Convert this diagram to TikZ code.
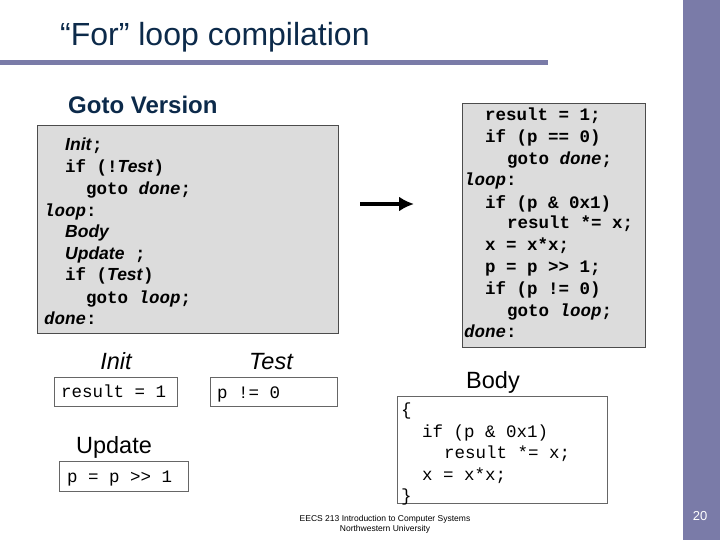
\documentclass[tikz,border=0pt]{standalone}
\usepackage{fontspec}
\usetikzlibrary{arrows.meta}
\setmainfont{Liberation Sans}
\setsansfont{Liberation Sans}
\setmonofont{Liberation Mono}
\definecolor{barpurple}{HTML}{7A7BA8}
\definecolor{titlenavy}{HTML}{0C2A4A}
\definecolor{boxgray}{HTML}{DCDCDC}
\newcommand{\sit}[1]{\textsf{\bfseries\itshape #1}}
\tikzset{
  codeline/.style={anchor=base west, inner sep=0, font=\fontsize{17.5}{20}\ttfamily\bfseries},
  codebox/.style={draw=black!70, fill=boxgray},
  valbox/.style={draw=black!60, fill=white},
  lbl/.style={anchor=base, inner sep=0, font=\fontsize{23.5}{26}\selectfont\itshape}
}
\begin{document}
\begin{tikzpicture}[x=1pt,y=-1pt]
	\useasboundingbox (0,0) rectangle (720,540);
	\fill[barpurple] (683,0) rectangle (720,540);
	\node[white, font=\fontsize{13}{15}\selectfont] (pagenum) at (700,516) {20};
	\node[anchor=base west, inner sep=0, titlenavy, font=\fontsize{32}{36}\selectfont] (title) at (60,46) {``For'' loop compilation};
	\draw[barpurple, line width=5pt] (0,63) -- (548,63);
	\node[anchor=base west, inner sep=0, titlenavy, font=\fontsize{24}{28}\selectfont\bfseries] (gotover) at (68,114) {Goto Version};
	% goto code
	\node[codebox, minimum width=301, minimum height=208, anchor=north west] (leftbox) at (37,125) {};
	\foreach \y/\x/\t in {151/65/{\sit{Init};}, 173/65/{if (!\sit{Test})}, 195/86/{goto \textit{done};},
		216/44/{\textit{loop}:}, 237/65/{\sit{Body}}, 259/65/{\sit{Update} ;}, 280/65/{if (\sit{Test})},
		303/86/{goto \textit{loop};}, 324/44/{\textit{done}:}}
		\node[codeline] at (\x,\y) {\t};
	% compiled code
	\node[codebox, minimum width=183, minimum height=244, anchor=north west] (rightbox) at (462,103) {};
	\foreach \y/\x/\t in {121/485/{result = 1;}, 143/485/{if (p == 0)}, 165/507/{goto \textit{done};},
		186/464/{\textit{loop}:}, 208/485/{if (p \& 0x1)}, 229/507/{result *= x;}, 251/485/{x = x*x;},
		272/485/{p = p >> 1;}, 294/485/{if (p != 0)}, 316/507/{goto \textit{loop};}, 337/464/{\textit{done}:}}
		\node[codeline] at (\x,\y) {\t};
	\coordinate (arrs) at (360,204);
	\coordinate (arre) at (414,204);
	\draw[line width=3.5pt, -{Latex[length=15pt,width=15pt]}] (arrs) -- (arre);
	% pieces
	\node[lbl] (initlbl) at (116,369) {Init};
	\node[valbox, minimum width=123, minimum height=29, anchor=north west] (initbox) at (54,377) {};
	\node[codeline, font=\fontsize{17.5}{20}\ttfamily] at (61,397) {result = 1};
	\node[lbl] (testlbl) at (271,369) {Test};
	\node[valbox, minimum width=127, minimum height=29, anchor=north west] (testbox) at (210,377) {};
	\node[codeline, font=\fontsize{17.5}{20}\ttfamily] at (217,398) {p != 0};
	\node[lbl, font=\fontsize{23.5}{26}\selectfont] (updlbl) at (114,453) {Update};
	\node[valbox, minimum width=129, minimum height=30, anchor=north west] (updbox) at (59,461) {};
	\node[codeline, font=\fontsize{17.5}{20}\ttfamily] at (67,482) {p = p >> 1};
	\node[lbl, font=\fontsize{23.5}{26}\selectfont] (bodylbl) at (493,388) {Body};
	\node[valbox, minimum width=210, minimum height=107, anchor=north west] (bodybox) at (397,396) {};
	\foreach \y/\x/\t in {415/401/{\{}, 437/422/{if (p \& 0x1)}, 458/444/{result *= x;}, 480/422/{x = x*x;}, 501/401/{\}}}
		\node[codeline, font=\fontsize{17.5}{20}\ttfamily] at (\x,\y) {\t};
	\node[font=\fontsize{8.5}{10}\selectfont, align=center] (footer) at (385,524) {EECS 213 Introduction to Computer Systems\\Northwestern University};
\end{tikzpicture}
\end{document}
